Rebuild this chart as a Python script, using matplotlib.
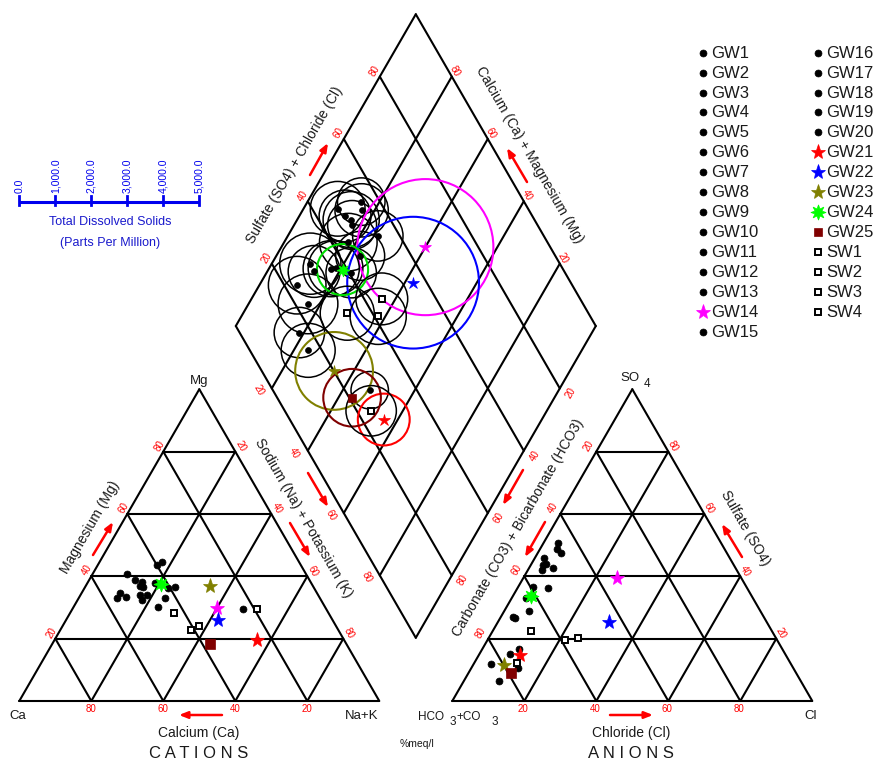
import numpy as np
import matplotlib
matplotlib.use("Agg")
import matplotlib.pyplot as plt
from matplotlib.patches import Circle

plt.rcParams['font.family'] = ['Liberation Sans', 'DejaVu Sans']

# ---------------- sample data (% meq/l) ----------------
names = ['GW1', 'GW2', 'GW3', 'GW4', 'GW5', 'GW6', 'GW7', 'GW8', 'GW9', 'GW10',
         'GW11', 'GW12', 'GW13', 'GW14', 'GW15', 'GW16', 'GW17', 'GW18', 'GW19',
         'GW20', 'GW21', 'GW22', 'GW23', 'GW24', 'GW25', 'SW1', 'SW2', 'SW3', 'SW4']

# cations
ca = [49.9, 46.9, 48.5, 48.0, 47.3, 38.4, 49.8, 40.6, 40.0, 47.6,
      46.3, 54.8, 53.5, 30.3, 56.4, 38.2, 49.5, 43.3, 43.0,
      23.0, 24.3, 31.7, 28.5, 41.9, 37.9, 43.0, 41.0, 37.9, 19.3]
mg = [40.6, 38.2, 38.8, 37.0, 36.6, 36.6, 32.4, 36.1, 43.6, 34.0,
      30.2, 34.5, 33.5, 29.7, 33.1, 44.5, 34.0, 38.0, 33.0,
      29.5, 19.6, 26.0, 37.0, 37.5, 18.3, 28.1, 22.8, 24.1, 29.5]
nak = [9.5, 14.9, 12.7, 15.0, 16.1, 25.0, 17.8, 23.3, 16.4, 18.4,
       23.5, 10.7, 13.0, 40.0, 10.5, 17.3, 16.5, 18.7, 24.0,
       47.5, 56.1, 42.3, 34.5, 20.6, 43.8, 28.9, 36.2, 38.0, 51.2]

# anions
hco3 = [52.9, 45.2, 52.0, 50.9, 51.5, 46.1, 55.3, 54.2, 46.5, 63.0,
        59.4, 69.3, 69.5, 34.7, 76.4, 64.3, 76.4, 83.4, 83.8,
        73.1, 73.9, 43.8, 79.9, 61.3, 79.2, 67.0, 55.1, 58.9, 76.0]
so4 = [43.6, 50.7, 44.0, 42.5, 46.0, 47.5, 36.1, 42.0, 48.9, 33.0,
       36.6, 26.5, 27.0, 39.3, 15.1, 28.8, 10.5, 11.8, 6.5,
       16.6, 14.7, 25.2, 11.5, 33.8, 8.9, 22.5, 20.1, 19.6, 12.1]
cl = [3.5, 4.1, 4.0, 6.6, 2.5, 6.4, 8.6, 3.8, 4.6, 4.0,
      4.0, 4.2, 3.5, 26.0, 8.5, 6.9, 13.1, 4.8, 9.7,
      10.3, 11.4, 31.0, 8.6, 4.9, 11.9, 10.5, 24.8, 21.5, 11.9]

# total dissolved solids (ppm)
tds = [760, 660, 720, 780, 680, 700, 800, 680, 740, 760,
       700, 850, 720, 1890, 800, 780, 830, 700, 750,
       520, 720, 1830, 1080, 710, 800, 750, 720, 780, 700]

tds_ticks = [0, 1000, 2000, 3000, 4000, 5000]
grid_vals = [20, 40, 60, 80]

# ---------------- marker styles ----------------
black_dot = dict(marker='o', color='black', face='black', ms=5.0, circ='black')
styles = {n: black_dot for n in names}
styles['GW14'] = dict(marker='*', color='#ff00ff', face='#ff00ff', ms=11, circ='#ff00ff')
styles['GW21'] = dict(marker='*', color='#ff0000', face='#ff0000', ms=11, circ='#ff0000')
styles['GW22'] = dict(marker='*', color='#0000ff', face='#0000ff', ms=11, circ='#0000ff')
styles['GW23'] = dict(marker='*', color='#808000', face='#808000', ms=11, circ='#808000')
styles['GW24'] = dict(marker=(8, 1, 0), color='#00ff00', face='#00ff00', ms=11, circ='#00dd00')
styles['GW25'] = dict(marker='s', color='#800000', face='#800000', ms=6.5, circ='#800000')
for n in ['SW1', 'SW2', 'SW3', 'SW4']:
    styles[n] = dict(marker='s', color='black', face='white', ms=5, circ='black')

# ---------------- geometry ----------------
S = 360.0          # pixels per triangle side
X0, Y0 = 19.3, 701.0
h = np.sqrt(3) / 2
g = 73.0 / S       # gap between the two triangles
ox = 1 + g         # origin of the anion triangle
L = np.array([0.5 + g / 2, h + g * h])   # left vertex of diamond
U = np.array([0.5, -h])                    # towards bottom of diamond
V = np.array([0.5, h])                     # towards top of diamond


def P(px, py):
    return ((px - X0) / S, (Y0 - py) / S)


def off(pt, dx, dy):
    return (pt[0] + dx / S, pt[1] - dy / S)


def tri(right, top, x0=0.0):
    return (x0 + right + 0.5 * top, top * h)


fig = plt.figure(figsize=(8.77, 7.61), dpi=100)
ax = fig.add_axes([0, 0, 1, 1])
ax.set_xlim(-X0 / S, (877 - X0) / S)
ax.set_ylim((Y0 - 761) / S, Y0 / S)
ax.axis('off')

LW = 1.5
LC = 'black'


def seg(p, q, **kw):
    ax.plot([p[0], q[0]], [p[1], q[1]], color=LC, lw=LW, solid_capstyle='round', zorder=1, **kw)


# triangles
for x0 in (0.0, ox):
    A, B, C = (x0, 0), (x0 + 1, 0), (x0 + 0.5, h)
    seg(A, B); seg(B, C); seg(C, A)
    for v in grid_vals:
        f = v / 100
        seg(tri(0, f, x0), tri(1 - f, f, x0))
        seg(tri(f, 0, x0), tri(f, 1 - f, x0))
        seg(tri(1 - f, 0, x0), tri(0, 1 - f, x0))

# diamond
Dl, Db, Dt, Dr = L, L + U, L + V, L + U + V
for p, q in [(Dl, Db), (Db, Dr), (Dr, Dt), (Dt, Dl)]:
    seg(p, q)
for v in grid_vals:
    f = v / 100
    seg(L + f * U, L + f * U + V)
    seg(L + f * V, L + f * V + U)

# ---------------- sample positions ----------------
ca_a, mg_a, nak_a = map(np.array, (ca, mg, nak))
hc_a, so_a, cl_a = map(np.array, (hco3, so4, cl))
ctot = ca_a + mg_a + nak_a
atot = hc_a + so_a + cl_a
fm, fn = mg_a / ctot, nak_a / ctot
fs, fc = so_a / atot, cl_a / atot

cat_x, cat_y = fn + 0.5 * fm, fm * h
an_x, an_y = ox + fc + 0.5 * fs, fs * h
dia = L[None, :] + fn[:, None] * U[None, :] + (fs + fc)[:, None] * V[None, :]

# TDS circles in the diamond
for i, n in enumerate(names):
    st = styles[n]
    r = tds[i] / 5000 * 0.5
    lw = 1.1 if st['circ'] == 'black' else 1.5
    ax.add_patch(Circle((dia[i, 0], dia[i, 1]), r, fill=False, ec=st['circ'], lw=lw, zorder=2))

for i, n in enumerate(names):
    st = styles[n]
    mew = 1.4 if st['face'] == 'white' else 0.5
    for (x, y), scale in [((cat_x[i], cat_y[i]), 1.0), ((an_x[i], an_y[i]), 1.0),
                          ((dia[i, 0], dia[i, 1]), 0.85)]:
        ax.plot(x, y, linestyle='none', marker=st['marker'], ms=st['ms'] * scale,
                mfc=st['face'], mec=st['color'], mew=mew, zorder=4)

# ---------------- tick labels ----------------
tick_kw = dict(color='red', fontsize=7, ha='center', va='center', zorder=5)
for v in grid_vals:
    f = v / 100
    ax.text(*off((f, 0), 0, 7.5), str(100 - v), rotation=0, **tick_kw)
    ax.text(*off(tri(0, f), -4, -6), str(v), rotation=60, **tick_kw)
    ax.text(*off(tri(f, 1 - f), 5.5, -5.5), str(v), rotation=-60, **tick_kw)
    ax.text(*off((ox + f, 0), -1, 7.5), str(v), rotation=0, **tick_kw)
    ax.text(*off(tri(0, 1 - f, ox), -7.3, -6.2), str(v), rotation=60, **tick_kw)
    ax.text(*off(tri(1 - f, f, ox), 4.7, -5.5), str(v), rotation=-60, **tick_kw)
    ax.text(*off(L + f * V, -5, -5.8), str(v), rotation=60, **tick_kw)
    ax.text(*off(L + (1 - f) * U + V, 3.5, -5.8), str(v), rotation=-60, **tick_kw)
    ax.text(*off(L + f * U, -13.3, 2), str(v), rotation=-60, **tick_kw)
    ax.text(*off(L + U + (1 - f) * V, 11, 4.7), str(v), rotation=60, **tick_kw)

# ---------------- axis titles ----------------
tc = '#1a1a1a'
tkw = dict(color=tc, fontsize=10, ha='center', va='center')
ax.text(*P(90, 527), 'Magnesium (Mg)', rotation=60, **tkw)
ax.text(*P(303, 518), 'Sodium (Na) + Potassium (K)', rotation=-60, **tkw)
ax.text(*P(199, 733), 'Calcium (Ca)', **tkw)
ax.text(*P(631, 733), 'Chloride (Cl)', **tkw)
ax.text(*P(745, 528), 'Sulfate (SO4)', rotation=-60, **tkw)
ax.text(*P(518, 528), 'Carbonate (CO3) + Bicarbonate (HCO3)', rotation=60, **tkw)
ax.text(*P(295, 165), 'Sulfate (SO4) + Chloride (Cl)', rotation=60, **tkw)
ax.text(*P(529, 155), 'Calcium (Ca) + Magnesium (Mg)', rotation=-60, **tkw)

ax.text(*P(199, 753), 'C A T I O N S', color=tc, fontsize=12, ha='center', va='center')
ax.text(*P(631, 753), 'A N I O N S', color=tc, fontsize=12, ha='center', va='center')
ax.text(*P(417, 744), '%meq/l', color=tc, fontsize=7.5, ha='center', va='center')

# vertex labels
vkw = dict(color=tc, fontsize=9.5, va='center')
ax.text(*P(199, 381), 'Mg', ha='center', **vkw)
ax.text(*P(18, 716), 'Ca', ha='center', **vkw)
ax.text(*P(362, 716), 'Na+K', ha='center', **vkw)
ax.text(*P(811, 716), 'Cl', ha='center', **vkw)
ax.text(*P(630, 378), 'SO', ha='center', **vkw)
ax.text(*P(647, 384), '4', ha='center', color=tc, fontsize=8.5, va='center')
skw = dict(color=tc, fontsize=8.5, va='center')
ax.text(*P(418, 717), 'HCO', ha='left', **skw)
ax.text(*P(452.5, 722), '3', ha='center', **skw)
ax.text(*P(456, 717), '+CO', ha='left', **skw)
ax.text(*P(495, 722), '3', ha='center', **skw)

# direction arrows
arrows = [((93, 555), (113, 522)), ((308, 473), (328, 507)), ((290, 523), (310, 557)),
          ((222, 715), (179, 715)), ((610, 715), (653, 715)), ((742, 557), (722, 524)),
          ((523, 470), (503, 505)), ((545, 522), (525, 557)), ((310, 175), (328, 143)),
          ((527, 182), (507, 148))]
for a, b in arrows:
    ax.annotate('', xy=P(*b), xytext=P(*a),
                arrowprops=dict(arrowstyle='-|>,head_length=0.5,head_width=0.2',
                                color='red', lw=1.8, shrinkA=0, shrinkB=0))

# ---------------- TDS scale ----------------
blue = '#0000ee'
sy = 202
x_scale = [X0 + t / 5000 * 180 for t in tds_ticks]
ax.plot([P(x_scale[0], sy)[0], P(x_scale[-1], sy)[0]], [P(0, sy)[1]] * 2, color=blue, lw=2.2,
        solid_capstyle='butt')
for t, xs in zip(tds_ticks, x_scale):
    ax.plot([P(xs, 196)[0]] * 2, [P(xs, 196)[1], P(xs, 205)[1]], color=blue, lw=2.0)
    ax.text(*P(xs, 193), f'{t:,.1f}', rotation=90, ha='center', va='bottom',
            color=blue, fontsize=7.5)
ax.text(*P(110, 222), 'Total Dissolved Solids', color='#1a1acc', fontsize=9, ha='center', va='center')
ax.text(*P(110, 243), '(Parts Per Million)', color='#1a1acc', fontsize=9, ha='center', va='center')

# ---------------- legend ----------------
for i, n in enumerate(names):
    st = styles[n]
    col, row = divmod(i, 15)
    mx = 703 if col == 0 else 818
    yy = 52.7 + row * 19.93
    mew = 1.4 if st['face'] == 'white' else 0.5
    ms = st['ms'] * (1.0 if st['marker'] != 's' else 0.9)
    ax.plot(*P(mx, yy), linestyle='none', marker=st['marker'], ms=ms,
            mfc=st['face'], mec=st['color'], mew=mew)
    ax.text(*P(mx + 8.5, yy + 0.5), n, color=tc, fontsize=12, ha='left', va='center')

fig.savefig('out.png', dpi=100)
